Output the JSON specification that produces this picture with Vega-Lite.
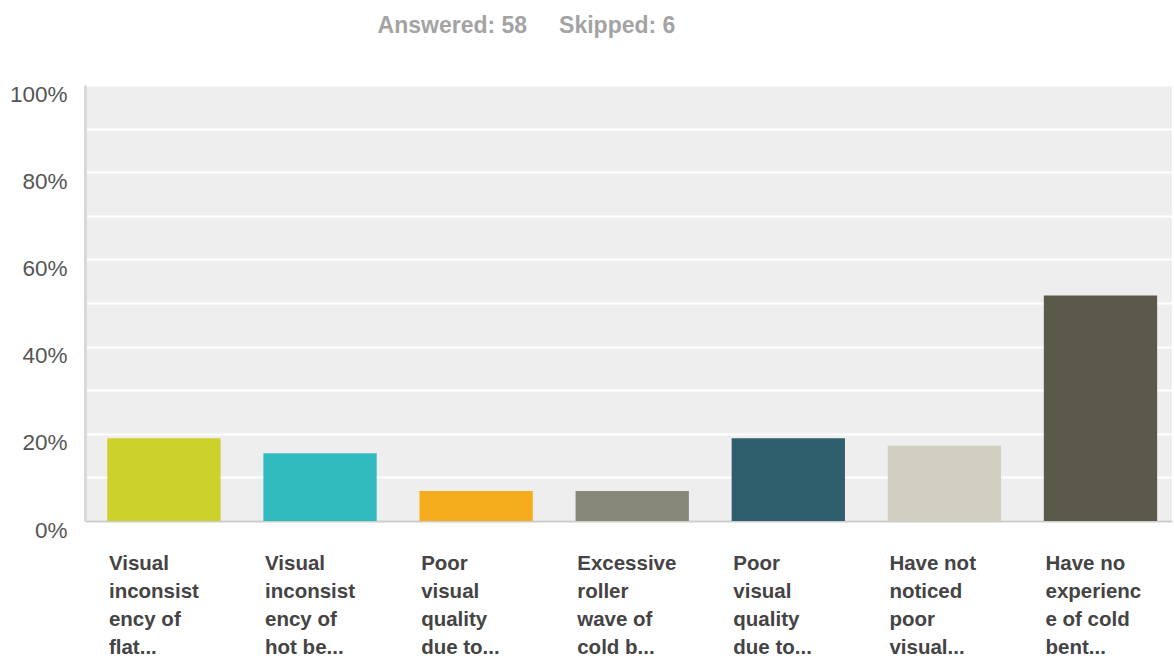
{
  "$schema": "https://vega.github.io/schema/vega-lite/v6.json",
  "autosize": {"type": "none"},
  "width": 1087,
  "height": 436,
  "padding": {"left": 85, "top": 85, "right": 2, "bottom": 137},
  "background": "#ffffff",
  "title": {
    "text": "Answered: 58\u00a0\u00a0\u00a0\u00a0\u00a0Skipped: 6",
    "anchor": "middle",
    "frame": "group",
    "dx": -102,
    "baseline": "alphabetic",
    "offset": 27,
    "font": "Liberation Sans",
    "fontSize": 23,
    "fontWeight": "bold",
    "color": "#a3a3a3"
  },
  "config": {
    "view": {"fill": "#eeeeee", "stroke": null}
  },
  "data": {
    "values": [
      {"option": "Visual\ninconsist\nency of\nflat...", "pct": 0.1897},
      {"option": "Visual\ninconsist\nency of\nhot be...", "pct": 0.1552},
      {"option": "Poor\nvisual\nquality\ndue to...", "pct": 0.069},
      {"option": "Excessive\nroller\nwave of\ncold b...", "pct": 0.069},
      {"option": "Poor\nvisual\nquality\ndue to... ", "pct": 0.1897},
      {"option": "Have not\nnoticed\npoor\nvisual...", "pct": 0.1724},
      {"option": "Have no\nexperienc\ne of cold\nbent...", "pct": 0.5172}
    ]
  },
  "mark": {"type": "bar"},
  "encoding": {
    "x": {
      "field": "option",
      "type": "nominal",
      "sort": null,
      "scale": {"paddingInner": 0.274, "paddingOuter": 0.119, "align": 0.6},
      "axis": {
        "title": null,
        "labelAngle": 0,
        "labelAlign": "left",
        "labelBaseline": "alphabetic",
        "labelOffset": -55,
        "labelPadding": 48,
        "labelLineHeight": 28.3,
        "labelFont": "Liberation Sans",
        "labelFontSize": 20.5,
        "labelFontWeight": "bold",
        "labelColor": "#444444",
        "labelExpr": "split(datum.value, '\\n')",
        "ticks": false,
        "domainColor": "#cccccc",
        "domainWidth": 2,
        "grid": false
      }
    },
    "y": {
      "field": "pct",
      "type": "quantitative",
      "scale": {"domain": [0, 1], "nice": false},
      "axis": {
        "title": null,
        "values": [0, 0.1, 0.2, 0.3, 0.4, 0.5, 0.6, 0.7, 0.8, 0.9, 1],
        "labelExpr": "round(datum.value * 10) % 2 == 0 ? format(datum.value, '.0%') : ''",
        "labelFont": "Liberation Sans",
        "labelFontSize": 22.5,
        "labelColor": "#555555",
        "labelOffset": 9,
        "labelPadding": 18,
        "ticks": false,
        "domainColor": "#dadada",
        "domainWidth": 3,
        "grid": true,
        "gridColor": "#ffffff",
        "gridWidth": 2
      }
    },
    "color": {
      "field": "option",
      "type": "nominal",
      "sort": null,
      "legend": null,
      "scale": {
        "range": ["#cdd22a", "#32bbbf", "#f5ad1e", "#87887a", "#2f5f6c", "#d0cfc0", "#5b5949"]
      }
    }
  }
}
